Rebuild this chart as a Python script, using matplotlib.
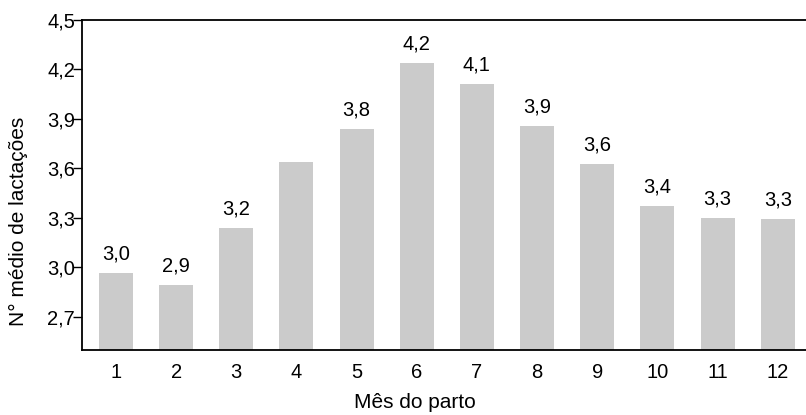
import matplotlib.pyplot as plt
from matplotlib.ticker import FuncFormatter

plt.rcParams['font.family'] = ['Liberation Sans', 'DejaVu Sans']

# mean number of lactations by calving month
months = [1, 2, 3, 4, 5, 6, 7, 8, 9, 10, 11, 12]
lactations = [2.965, 2.893, 3.239, 3.638, 3.835, 4.234, 4.107, 3.855, 3.624, 3.37, 3.30, 3.29]
unlabelled = [4]
y_ticks = [2.7, 3.0, 3.3, 3.6, 3.9, 4.2, 4.5]


def comma(v, pos=None):
    return f"{v:.1f}".replace('.', ',')


fig = plt.figure(figsize=(8.06, 4.15), dpi=100)
ax = fig.add_axes([0.1017, 0.1566, 0.8983, 0.7964])

ax.bar(months, lactations, width=0.565, color='#cbcbcb')

for m, v in zip(months, lactations):
    if m in unlabelled:
        continue
    ax.annotate(comma(v), (m, v), xytext=(0, 7), textcoords='offset points',
                ha='center', va='bottom', fontsize=14.5)

ax.set_xlim(0.435, 12.47)
ax.set_ylim(2.5, 4.5)
ax.set_xticks(months)
ax.set_yticks(y_ticks)
ax.yaxis.set_major_formatter(FuncFormatter(comma))
ax.tick_params(axis='x', length=0, pad=9, labelsize=14.5)
ax.tick_params(axis='y', length=6.5, width=1, pad=-1.5, labelsize=14.5)

for side in ['left', 'bottom', 'top']:
    ax.spines[side].set_linewidth(1.3)
ax.spines['right'].set_visible(False)

ax.set_xlabel('Mês do parto', fontsize=15)
ax.xaxis.set_label_coords(0.46, -0.13)
ax.set_ylabel('N° médio de lactações', fontsize=15)
ax.yaxis.set_label_coords(-0.075, 0.39)

fig.savefig('out.png', dpi=100)
